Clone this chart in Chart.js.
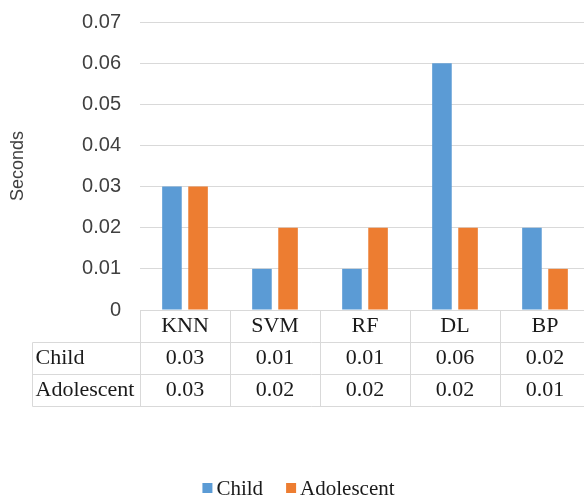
<!DOCTYPE html>
<html>
<head>
<meta charset="utf-8">
<script src="https://cdn.jsdelivr.net/npm/chart.js@4/dist/chart.umd.min.js"></script>
<style>
  html, body { margin: 0; padding: 0; background: #fff; overflow: hidden; }
  #wrap { width: 584px; height: 500px; overflow: hidden; }
</style>
</head>
<body>
<div id="wrap"><canvas id="c" width="590" height="500"></canvas></div>
<script>
// Run time per model, in seconds
const categories = ['KNN', 'SVM', 'RF', 'DL', 'BP'];
const seriesNames = ['Child', 'Adolescent'];
const childSeconds = [0.03, 0.01, 0.01, 0.06, 0.02];
const adolescentSeconds = [0.03, 0.02, 0.02, 0.02, 0.01];
const yMin = 0, yMax = 0.07, yStep = 0.01;

const seriesColors = ['#5b9bd5', '#ed7d31'];
const gridColor = '#d9d9d9';
const serifFont = '"Liberation Serif", "Times New Roman", serif';
const sansFont = '"Liberation Sans", Arial, sans-serif';

// Data table under the plot: category header row + one row per series
const dataTable = {
  id: 'dataTable',
  afterDraw(chart) {
    const { ctx, chartArea, scales } = chart;
    const x = scales.x;
    const n = chart.data.labels.length;
    const colW = (chartArea.right - chartArea.left) / n;
    const rowH = 32;
    const headerLeft = 32.5;
    const sets = chart.data.datasets;
    const y0 = Math.round(chartArea.bottom) + 0.5;
    const yEnd = y0 + (sets.length + 1) * rowH;
    const line = (x1, y1, x2, y2) => { ctx.beginPath(); ctx.moveTo(x1, y1); ctx.lineTo(x2, y2); ctx.stroke(); };

    ctx.save();
    ctx.strokeStyle = gridColor;
    ctx.lineWidth = 1;
    line(chartArea.left, y0, chartArea.right, y0);
    for (let r = 1; r <= sets.length + 1; r++) {
      line(headerLeft, y0 + r * rowH, chartArea.right, y0 + r * rowH);
    }
    for (let i = 0; i <= n; i++) {
      const xb = Math.round(chartArea.left + i * colW) + 0.5;
      line(xb, y0, xb, yEnd);
    }
    line(headerLeft, y0 + rowH, headerLeft, yEnd);

    ctx.fillStyle = '#1a1a1a';
    ctx.font = '22px ' + serifFont;
    ctx.textBaseline = 'middle';
    sets.forEach((ds, r) => {
      const cy = y0 + (r + 1) * rowH + rowH / 2;
      ctx.textAlign = 'left';
      ctx.fillText(ds.label, headerLeft + 3, cy);
      ctx.textAlign = 'center';
      ds.data.forEach((v, i) => {
        ctx.fillText(v.toFixed(2), x.getPixelForValue(i), cy);
      });
    });
    ctx.restore();
  }
};

// Legend row at the foot of the chart
const footLegend = {
  id: 'footLegend',
  afterDraw(chart) {
    const { ctx } = chart;
    const box = 10, gap = 4, spacing = 23, cy = 488;
    ctx.save();
    ctx.font = '21px ' + serifFont;
    ctx.textBaseline = 'middle';
    ctx.textAlign = 'left';
    const items = chart.data.datasets.map(ds => ({
      text: ds.label, color: ds.backgroundColor, w: ctx.measureText(ds.label).width
    }));
    const total = items.reduce((s, it) => s + box + gap + it.w, 0) + spacing * (items.length - 1);
    let cx = 298.5 - total / 2;
    items.forEach(it => {
      ctx.fillStyle = it.color;
      ctx.fillRect(cx, cy - box / 2, box, box);
      ctx.fillStyle = '#1a1a1a';
      ctx.fillText(it.text, cx + box + gap, cy + 1);
      cx += box + gap + it.w + spacing;
    });
    ctx.restore();
  }
};

new Chart(document.getElementById('c'), {
  type: 'bar',
  data: {
    labels: categories,
    datasets: [
      { label: seriesNames[0], data: childSeconds, backgroundColor: seriesColors[0] },
      { label: seriesNames[1], data: adolescentSeconds, backgroundColor: seriesColors[1] }
    ]
  },
  options: {
    responsive: false,
    animation: false,
    layout: { padding: { top: 22, left: 0, right: 0, bottom: 0 } },
    datasets: { bar: { categoryPercentage: 0.58, barPercentage: 0.75, borderWidth: 0 } },
    plugins: { legend: { display: false }, tooltip: { enabled: false } },
    scales: {
      x: {
        grid: { display: false },
        border: { display: false },
        ticks: { color: '#1a1a1a', font: { family: serifFont, size: 22 }, padding: -5, maxRotation: 0 },
        afterFit(s) { s.height = 190; }
      },
      y: {
        min: yMin, max: yMax,
        grid: { color: gridColor, drawTicks: true, tickLength: 19, tickColor: 'rgba(0,0,0,0)' },
        border: { display: false },
        ticks: {
          stepSize: yStep, padding: 0, color: '#404040',
          font: { family: sansFont, size: 20 },
          callback: v => (v === 0 ? '0' : v.toFixed(2))
        },
        title: {
          display: true, text: 'Seconds', color: '#404040',
          font: { family: sansFont, size: 18 }, padding: { top: 7, bottom: 0 }
        },
        afterFit(s) { s.width = 140; }
      }
    }
  },
  plugins: [dataTable, footLegend]
});
</script>
</body>
</html>
